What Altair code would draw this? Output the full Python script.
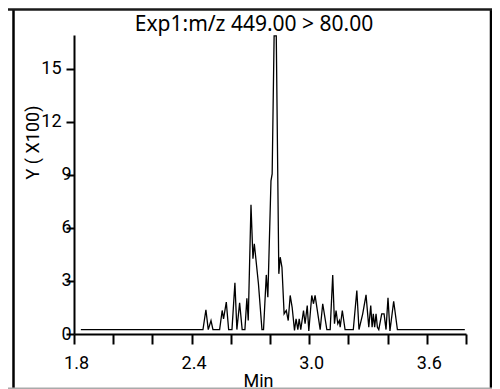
import altair as alt
import pandas as pd

# Retention time (min) and intensity (x100)
times = [1.835, 2.458, 2.473, 2.485, 2.499, 2.509, 2.543, 2.556, 2.563, 2.577,
         2.589, 2.606, 2.621, 2.631, 2.645, 2.658, 2.672, 2.682, 2.689, 2.703,
         2.713, 2.720, 2.741, 2.759, 2.767, 2.781, 2.789, 2.805, 2.811, 2.821,
         2.832, 2.845, 2.852, 2.861, 2.872, 2.883, 2.893, 2.903, 2.913, 2.925,
         2.933, 2.942, 2.949, 2.957, 2.971, 2.979, 2.990, 2.998, 3.013, 3.022,
         3.030, 3.056, 3.069, 3.090, 3.107, 3.120, 3.129, 3.137, 3.146, 3.154,
         3.158, 3.169, 3.183, 3.225, 3.243, 3.254, 3.273, 3.290, 3.304, 3.314,
         3.321, 3.327, 3.334, 3.341, 3.348, 3.355, 3.370, 3.382, 3.392, 3.402,
         3.412, 3.431, 3.450, 3.794]
intensity = [0.25, 0.25, 1.37, 0.25, 0.76, 0.25, 0.25, 1.33, 0.86, 1.80,
             0.25, 0.25, 2.89, 0.25, 1.76, 0.25, 0.25, 2.02, 0.76, 7.30,
             4.25, 5.10, 2.84, 0.25, 0.25, 3.34, 2.08, 8.66, 9.05, 16.85,
             16.85, 3.40, 4.34, 3.77, 1.14, 1.33, 0.76, 2.18, 1.51, 0.20,
             0.86, 0.25, 0.86, 0.25, 1.33, 0.58, 1.61, 0.17, 2.18, 1.71,
             2.18, 0.25, 1.71, 0.25, 0.25, 3.34, 0.58, 1.33, 0.58, 0.76,
             0.38, 1.33, 0.25, 0.25, 2.46, 0.25, 1.14, 2.21, 0.38, 1.61,
             0.38, 1.14, 0.38, 1.14, 0.38, 0.25, 1.14, 1.14, 0.25, 2.05,
             0.17, 1.85, 0.25, 0.25]

x_ticks = [1.8, 2.0, 2.2, 2.4, 2.6, 2.8, 3.0, 3.2, 3.4, 3.6, 3.8]
x_labels = ["1.8", "2.4", "3.0", "3.6"]
y_ticks = [0, 3, 6, 9, 12, 15]
title_text = "Exp1:m/z 449.00 > 80.00"

df = pd.DataFrame({"t": times, "v": intensity})

W, H = 392, 299
FONT = "Roboto"

line = alt.Chart(df).mark_line(color="black", strokeWidth=1.3, interpolate="linear").encode(
    x=alt.X("t:Q", scale=alt.Scale(domain=[1.8, 3.8], nice=False, zero=False),
            axis=alt.Axis(values=x_ticks, format=".1f",
                          labelExpr="indexof(" + str(x_labels) + ", datum.label) >= 0 ? datum.label : ''",
                          labelOverlap=False, grid=False, tickSize=10, tickWidth=2,
                          domainWidth=2, domainColor="black", tickColor="black",
                          labelFont=FONT, labelFontSize=18, labelColor="black",
                          labelPadding=10, labelOffset=2, labelFlush=False,
                          title="Min", titleFont=FONT, titleFontSize=18, titleFontWeight="normal",
                          titleColor="black", titleX=184, titleY=52, titleBaseline="alphabetic",
                          titleAlign="center")),
    y=alt.Y("v:Q", scale=alt.Scale(domain=[0, 16.9], nice=False),
            axis=alt.Axis(values=y_ticks, format="d", grid=False, tickSize=8, tickWidth=2,
                          domainWidth=2, domainColor="black", tickColor="black",
                          labelFont=FONT, labelFontSize=18, labelColor="black",
                          labelPadding={"condition": {"test": "datum.value >= 10", "value": 5}, "value": -5},
                          title="Y ( X100)", titleFont=FONT, titleFontSize=18, titleFontWeight="normal",
                          titleColor="black", titleAngle=270, titleX=-41, titleY=107,
                          titleBaseline="middle", titleAlign="center")),
)

dummy = pd.DataFrame({"a": [0]})
base = alt.Chart(dummy)

# outer frame sides
left_border = base.mark_rule(color="black", strokeWidth=2.5).encode(
    x=alt.value(-60.5), y=alt.value(-25.5), y2=alt.value(370))
right_border = base.mark_rule(color="black", strokeWidth=2.5).encode(
    x=alt.value(417), y=alt.value(-25.5), y2=alt.value(370))
# horizontal lines drawn as thin filled bars (top frame edge, grey bottom edge)
top_border = base.mark_bar(color="#1a1a1a", height=2.5).encode(
    x=alt.value(-66), x2=alt.value(418.5), y=alt.value(-25.5))
bottom_line = base.mark_bar(color="#aaaaaa", height=1.5).encode(
    x=alt.value(-66), x2=alt.value(418.5), y=alt.value(353.2))

title = base.mark_text(font="Noto Sans", fontSize=21, color="black", align="center",
                       baseline="alphabetic").encode(
    x=alt.value(180), y=alt.value(-4), text=alt.value(title_text))

chart = alt.layer(line, left_border, right_border, top_border, bottom_line, title).properties(
    width=W, height=H,
    autosize=alt.AutoSizeParams(type="none"),
    padding={"left": 66, "top": 27, "right": 26, "bottom": 55},
    background="white",
).configure_view(stroke=None)

chart.save("out.html", embed_options={"renderer": "svg", "actions": False})
